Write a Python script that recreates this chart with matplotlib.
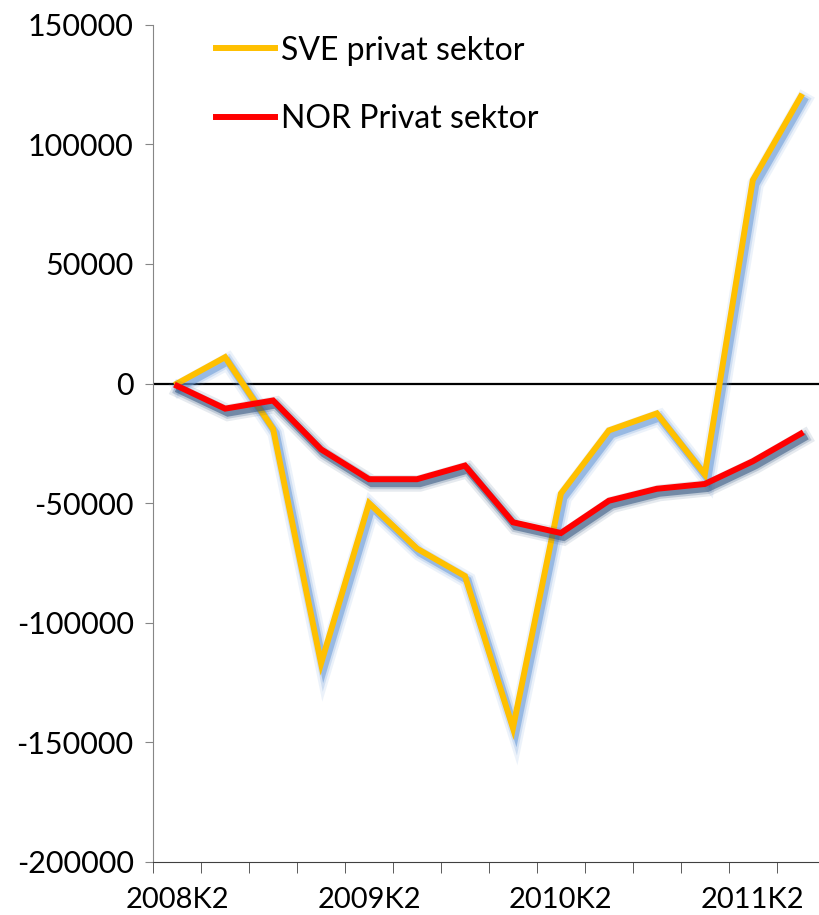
import matplotlib
matplotlib.use("Agg")
import matplotlib.pyplot as plt
import matplotlib.patheffects as pe

plt.rcParams['font.family'] = ['Lato', 'DejaVu Sans']

quarters = ["2008K2", "2008K3", "2008K4", "2009K1", "2009K2", "2009K3", "2009K4",
            "2010K1", "2010K2", "2010K3", "2010K4", "2011K1", "2011K2", "2011K3"]
sve = [0, 11000, -19000, -117000, -50000, -69000, -80500, -144000,
       -46000, -19600, -12500, -38000, 85000, 120000]
nor = [-1000, -10500, -7100, -27500, -40000, -40000, -34300, -58000,
       -62500, -49000, -44000, -42000, -32500, -21000]
yticks = [-200000, -150000, -100000, -50000, 0, 50000, 100000, 150000]

fig = plt.figure(figsize=(8.19, 9.15), dpi=100)
ax = fig.add_axes([0.187, 0.058, 0.820, 0.915])

x = list(range(len(quarters)))


def shadow(col):
    return [pe.SimpleLineShadow(offset=(2, -3), shadow_color=col, alpha=0.12, linewidth=12),
            pe.SimpleLineShadow(offset=(2, -3), shadow_color=col, alpha=0.22, linewidth=8.5),
            pe.SimpleLineShadow(offset=(2, -3), shadow_color=col, alpha=0.55, linewidth=5.5),
            pe.Normal()]


ax.axhline(0, color='black', lw=1.6, zorder=2)
ax.plot(x, sve, color='#ffc000', lw=4.3, solid_joinstyle='miter', label='SVE privat sektor',
        path_effects=shadow('#6a9bd8'), zorder=3)
ax.plot(x, nor, color='#ff0000', lw=4.3, solid_joinstyle='miter', label='NOR Privat sektor',
        path_effects=shadow('#34557f'), zorder=4)

ax.set_xlim(-0.5, 13.5)
ax.set_ylim(-200000, 150000)
ax.set_yticks(yticks)
ax.set_yticklabels([str(v) for v in yticks])

ax.set_xticks([0, 4, 8, 12])
ax.set_xticklabels([quarters[i] for i in [0, 4, 8, 12]])
ax.set_xticks([i - 0.5 for i in range(len(quarters) + 1)], minor=True)
ax.tick_params(axis='x', which='major', length=0, pad=18, labelsize=21)
ax.tick_params(axis='x', which='minor', length=8, direction='out', color='#404040')
ax.tick_params(axis='y', length=6, direction='out', color='#868686', labelsize=22, pad=8)

for s in ['top', 'right']:
    ax.spines[s].set_visible(False)
ax.spines['left'].set_color('#868686')
ax.spines['bottom'].set_color('#404040')

leg = ax.legend(loc='upper left', bbox_to_anchor=(0.093, 0.987), frameon=False, borderpad=0,
                borderaxespad=0, fontsize=23, handlelength=1.85, labelspacing=1.2,
                handletextpad=0.2)
for h in leg.get_lines():
    h.set_path_effects([pe.Normal()])

plt.savefig("out.png", dpi=100)
